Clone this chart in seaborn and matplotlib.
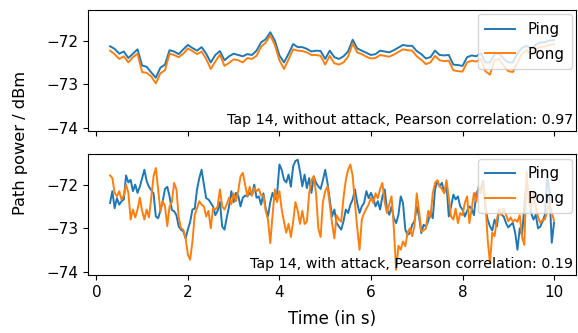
import numpy as np
import matplotlib
matplotlib.use("Agg")
import matplotlib.pyplot as plt
import seaborn as sns

# time axes (sampling grids)
t_top = np.round(np.arange(0.3, 10.0001, 0.1), 2)
t_bot = np.round(np.arange(0.3, 10.0001, 0.05), 2)

ping_top = [
    -72.13, -72.19, -72.30, -72.25, -72.40, -72.30, -72.20, -72.57, -72.60, -72.73,
    -72.85, -72.62, -72.55, -72.22, -72.25, -72.31, -72.20, -72.10, -72.17, -72.23,
    -72.15, -72.30, -72.50, -72.33, -72.24, -72.45, -72.36, -72.30, -72.33, -72.36,
    -72.31, -72.33, -72.23, -72.04, -71.97, -71.81, -72.00, -72.34, -72.50, -72.30,
    -72.08, -72.15, -72.15, -72.19, -72.25, -72.23, -72.24, -72.42, -72.23, -72.38,
    -72.42, -72.36, -72.25, -71.98, -72.18, -72.23, -72.28, -72.33, -72.31, -72.23,
    -72.25, -72.27, -72.22, -72.16, -72.10, -72.12, -72.12, -72.24, -72.31, -72.41,
    -72.38, -72.23, -72.33, -72.34, -72.33, -72.55, -72.56, -72.58, -72.38, -72.34,
    -72.36, -72.29, -72.50, -72.50, -72.31, -72.29, -72.42, -72.50, -72.50, -72.30,
    -72.17, -72.12, -72.18, -72.10, -72.04, -72.04, -72.00, -71.99,
]
pong_top = [
    -72.23, -72.31, -72.42, -72.36, -72.50, -72.38, -72.30, -72.72, -72.74, -72.82,
    -72.98, -72.75, -72.68, -72.30, -72.33, -72.38, -72.30, -72.18, -72.24, -72.31,
    -72.25, -72.42, -72.65, -72.48, -72.32, -72.58, -72.51, -72.43, -72.45, -72.50,
    -72.40, -72.42, -72.35, -72.14, -72.05, -71.88, -72.10, -72.45, -72.65, -72.43,
    -72.20, -72.23, -72.24, -72.27, -72.33, -72.33, -72.35, -72.55, -72.35, -72.52,
    -72.55, -72.50, -72.37, -72.07, -72.27, -72.31, -72.37, -72.41, -72.40, -72.33,
    -72.35, -72.37, -72.32, -72.26, -72.20, -72.22, -72.23, -72.36, -72.44, -72.54,
    -72.50, -72.35, -72.45, -72.47, -72.46, -72.68, -72.70, -72.71, -72.50, -72.46,
    -72.48, -72.42, -72.70, -72.78, -72.45, -72.42, -72.58, -72.70, -72.72, -72.50,
    -72.30, -72.22, -72.30, -72.20, -72.14, -72.14, -72.10, -72.08,
]

ping_bot = [
    -72.42, -72.15, -72.54, -72.31, -72.46, -72.38, -72.34, -71.79, -71.95, -71.89,
    -72.15, -72.00, -72.19, -72.05, -71.85, -71.66, -71.92, -72.05, -72.13, -72.20,
    -72.73, -72.77, -72.60, -72.38, -72.10, -72.05, -72.27, -72.58, -72.61, -72.70,
    -72.96, -73.03, -73.07, -73.23, -73.03, -72.85, -72.57, -72.55, -72.11, -71.85,
    -71.66, -72.00, -72.31, -72.34, -72.42, -72.50,
    -72.70, -72.60, -72.40, -72.96, -73.03, -72.75, -72.50, -72.15, -72.40, -72.19,
    -72.25, -72.50, -72.30, -72.25, -72.27, -72.19, -72.25, -72.00, -72.30, -72.27,
    -72.46, -72.20, -72.55, -72.73, -72.40, -72.19, -72.34, -72.20, -71.54, -71.66,
    -71.89, -71.95, -71.77, -72.05, -71.58, -71.46, -71.43, -71.70, -72.04, -71.77,
    -72.08, -71.85, -72.19, -71.81, -71.96, -72.04, -72.10, -71.90, -71.66,
    -71.96, -72.34, -72.73, -72.57, -72.88, -72.96, -73.03, -72.84, -72.57, -72.65,
    -72.46, -72.34, -72.11, -72.42, -72.65, -72.50, -72.42, -72.15, -72.31, -72.19,
    -72.31, -72.50, -72.38, -72.57, -72.27, -72.11, -72.57, -72.69, -72.50, -72.77,
    -72.88, -72.69, -72.27, -72.42, -73.03, -73.15, -73.11, -72.92, -72.84, -72.50,
    -72.73, -73.11, -72.92, -72.96, -72.84, -72.61, -72.77, -72.11, -71.92, -72.04,
    -71.96,
    -72.19, -72.00, -72.73, -72.50, -72.23, -72.34, -72.27, -72.50, -72.57, -72.73,
    -72.60, -72.50, -72.55, -72.70, -72.20, -72.11, -72.10, -71.92, -72.54, -72.80,
    -72.96, -73.05, -72.80, -72.96, -72.57, -72.69, -72.73, -72.88, -72.98, -72.92,
    -72.88, -73.10, -73.49, -73.00, -73.15, -72.50, -71.92, -72.20, -72.65, -72.80,
    -72.69, -73.00, -72.96, -72.84, -72.69, -71.80, -72.20, -73.33, -72.87,
]
pong_bot = [
    -71.79, -71.85, -72.19, -72.27, -72.15, -72.34, -72.25, -72.00, -72.19, -72.80,
    -72.57, -72.75, -72.57, -72.30, -72.60, -72.80, -72.57, -72.75, -72.30, -71.81,
    -71.62, -72.10, -72.61, -72.38, -72.50, -72.95, -72.50, -72.40, -71.96, -72.11,
    -72.75, -73.00, -73.03, -73.23, -73.60, -73.72, -73.30, -72.69, -72.54, -72.38,
    -72.46, -72.50, -72.73, -72.60, -73.00, -72.54,
    -72.57, -72.50, -72.11, -72.50, -72.57, -72.45, -72.30, -72.45, -72.20, -72.38,
    -72.15, -71.81, -71.73, -72.00, -72.27, -72.05, -72.25, -72.08, -72.15, -72.10,
    -72.25, -72.25, -72.60, -72.80, -73.34, -72.70, -72.11, -72.40, -72.15, -72.57,
    -72.85, -73.10, -72.90, -73.20, -72.85, -72.40, -72.60, -72.90, -72.60, -72.90,
    -72.85, -72.20, -71.90, -71.81, -72.20, -73.00, -73.20, -72.40, -72.15,
    -72.04, -72.45, -72.88, -73.23, -72.70, -72.80, -72.85, -72.30, -71.90, -71.66,
    -71.54, -71.80, -72.42, -73.00, -73.49, -72.80, -72.65, -72.55, -72.45, -72.30,
    -72.42, -72.20, -72.31, -72.10, -71.96, -72.40, -72.65, -72.45, -72.27, -73.00,
    -73.95, -73.40, -73.49, -73.30, -73.41, -73.10, -73.00, -73.18, -72.95, -72.20,
    -72.60, -73.07, -73.05, -73.00, -72.60, -72.75, -72.20, -71.96, -71.90, -72.04,
    -72.10,
    -72.20, -71.90, -72.30, -72.73, -72.80, -72.55, -72.88, -72.65, -72.70, -72.42,
    -72.27, -72.88, -72.55, -72.19, -72.40, -72.05, -72.20, -71.96, -72.40, -73.26,
    -73.80, -73.10, -73.18, -72.80, -72.57, -72.70, -72.55, -72.69, -72.84, -72.75,
    -72.85, -72.80, -72.85, -72.70, -73.20, -73.38, -71.70, -72.40, -72.54, -72.15,
    -72.50, -72.75, -72.88, -72.80, -72.80, -72.60, -72.40, -72.65, -72.82,
]

series_labels = ["Ping", "Pong"]
notes = ["Tap 14, without attack, Pearson correlation: 0.97",
         "Tap 14, with attack, Pearson correlation: 0.19"]
y_ticks = [-74, -73, -72]
x_ticks = [0, 2, 4, 6, 8, 10]

fig, (ax1, ax2) = plt.subplots(2, 1, figsize=(5.78, 3.33), dpi=100,
                               sharex=True, sharey=True)
fig.subplots_adjust(left=0.152, right=0.997, top=0.97, bottom=0.174, hspace=0.19)

panels = [(ax1, t_top, ping_top, pong_top, notes[0]),
          (ax2, t_bot, ping_bot, pong_bot, notes[1])]
for ax, t, p1, p2, note in panels:
    sns.lineplot(x=t, y=p1, ax=ax, color="#1f77b4", linewidth=1.4, label=series_labels[0])
    sns.lineplot(x=t, y=p2, ax=ax, color="#ff7f0e", linewidth=1.4, label=series_labels[1])
    ax.legend(loc="upper right", fontsize=10.8, borderaxespad=0.3,
              labelspacing=0.65, borderpad=0.5)
    ax.text(0.993, 0.03, note, transform=ax.transAxes, ha="right", va="bottom",
            fontsize=10.3)
    ax.set_yticks(y_ticks)
    ax.set_ylabel("")
    ax.tick_params(labelsize=11)

ax1.set_ylim(-74.07, -71.3)
ax2.set_xticks(x_ticks)
ax2.set_xlabel("Time (in s)", fontsize=12, labelpad=7)
fig.text(0.035, 0.572, "Path power / dBm", rotation=90, ha="center", va="center",
         fontsize=11.7)

fig.savefig("out.png", dpi=100)
